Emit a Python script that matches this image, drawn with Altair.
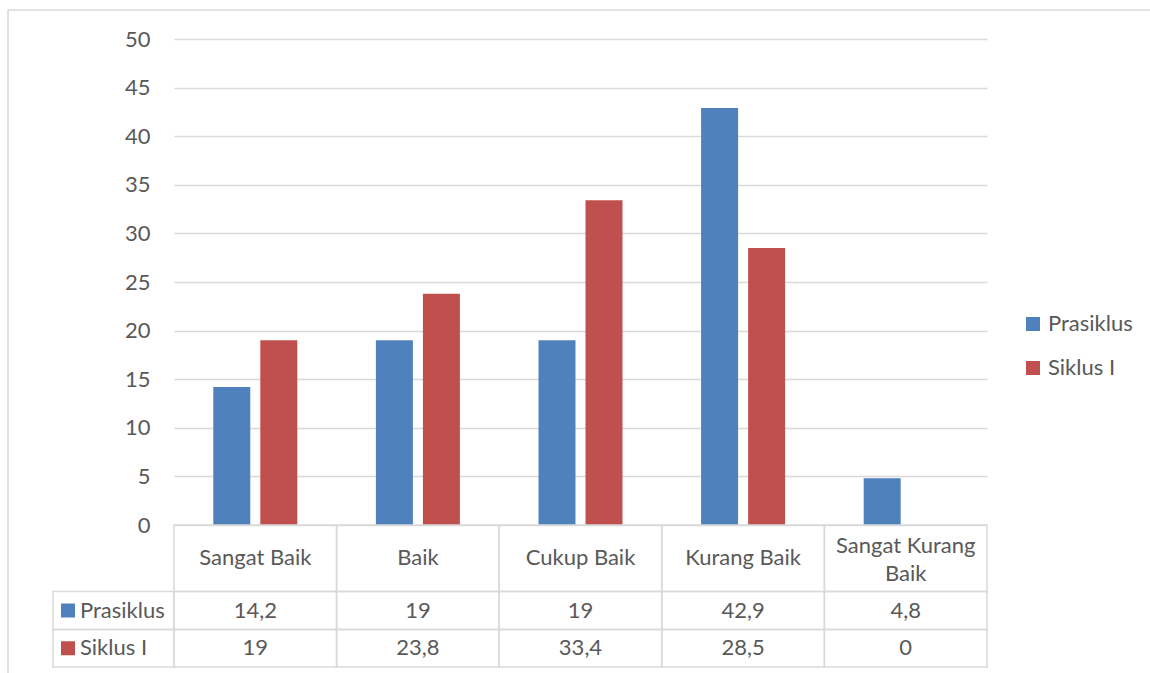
import altair as alt
import pandas as pd

categories = ["Sangat Baik", "Baik", "Cukup Baik", "Kurang Baik", "Sangat Kurang Baik"]
header_lines = [["Sangat Baik"], ["Baik"], ["Cukup Baik"], ["Kurang Baik"], ["Sangat Kurang", "Baik"]]
series_names = ["Prasiklus", "Siklus I"]
prasiklus = [14.2, 19, 19, 42.9, 4.8]
siklus1 = [19, 23.8, 33.4, 28.5, 0]
colors = ["#4F81BD", "#C0504D"]
y_ticks = [0, 5, 10, 15, 20, 25, 30, 35, 40, 45, 50]

FONT = "Lato"
FS = 22
TXT = "#595959"
GRID = "#d9d9d9"
LH = 28

W, H = 813, 486
row_tops = [552.5, 590.5]
row_bottom = 628.0

rows = []
for s, vals in zip(series_names, [prasiklus, siklus1]):
    for c, v in zip(categories, vals):
        rows.append({"category": c, "series": s, "value": v,
                     "label": f"{v:g}".replace(".", ",")})
df = pd.DataFrame(rows)
df_head = pd.DataFrame({"category": categories, "lines": header_lines,
                        "n": [len(l) for l in header_lines]})
df_ser = pd.DataFrame({"series": series_names})

x_enc = alt.X("category:N", sort=categories, axis=None,
              scale=alt.Scale(domain=categories, paddingInner=0, paddingOuter=0))
color_enc = alt.Color("series:N", sort=series_names,
                      scale=alt.Scale(domain=series_names, range=colors),
                      legend=alt.Legend(title=None, orient="none", legendX=848, legendY=274,
                                        symbolType="square", symbolSize=196,
                                        symbolStrokeWidth=0, labelFontSize=FS,
                                        labelFont=FONT, labelColor=TXT,
                                        rowPadding=22, labelOffset=4))

# outer chart border (decoration)
border = alt.Chart(df_ser.head(1)).mark_rect(fillOpacity=0, stroke=GRID, strokeWidth=1.5).encode(
    x=alt.value(-166), x2=alt.value(1000), y=alt.value(-29), y2=alt.value(700))

bars = alt.Chart(df).mark_bar().encode(
    x=x_enc,
    xOffset=alt.XOffset("series:N", sort=series_names,
                        scale=alt.Scale(domain=series_names, paddingInner=0.213, paddingOuter=0.836)),
    y=alt.Y("value:Q", scale=alt.Scale(domain=[0, 50], nice=False),
            axis=alt.Axis(values=y_ticks, title=None, domain=False, ticks=False,
                          grid=True, gridColor=GRID, gridWidth=1.5, labelPadding=24,
                          labelFont=FONT, labelFontSize=FS, labelColor=TXT)),
    color=color_enc,
)

cell_style = dict(fillOpacity=0, stroke=GRID, strokeWidth=1.5)

head_cells = alt.Chart(df_head).mark_rect(**cell_style).encode(
    x=x_enc, y=alt.value(H), y2=alt.value(row_tops[0]))
head_mid = (H + row_tops[0]) / 2
head_text1 = alt.Chart(df_head).transform_filter("datum.n == 1").mark_text(
    font=FONT, fontSize=FS, color=TXT, baseline="middle", lineHeight=LH).encode(
    x=x_enc, y=alt.value(head_mid), text="lines")
head_text2 = alt.Chart(df_head).transform_filter("datum.n == 2").mark_text(
    font=FONT, fontSize=FS, color=TXT, baseline="middle", lineHeight=LH, dy=-LH / 2 + 2).encode(
    x=x_enc, y=alt.value(head_mid), text="lines")

layers = [border, bars, head_cells, head_text1, head_text2]
for i, s in enumerate(series_names):
    top = row_tops[i]
    bot = row_tops[i + 1] if i + 1 < len(row_tops) else row_bottom
    mid = (top + bot) / 2
    sub = df[df.series == s]
    layers.append(alt.Chart(sub).mark_rect(**cell_style).encode(
        x=x_enc, y=alt.value(top), y2=alt.value(bot)))
    layers.append(alt.Chart(sub).mark_text(font=FONT, fontSize=FS, color=TXT,
                                           baseline="middle").encode(
        x=x_enc, y=alt.value(mid), text="label:N"))
    sd = df_ser[df_ser.series == s]
    layers.append(alt.Chart(sd).mark_rect(**cell_style).encode(
        x=alt.value(-121), x2=alt.value(0), y=alt.value(top), y2=alt.value(bot)))
    layers.append(alt.Chart(sd).mark_square(size=196, opacity=1, strokeWidth=0).encode(
        x=alt.value(-106), y=alt.value(mid), color=color_enc))
    layers.append(alt.Chart(sd).mark_text(font=FONT, fontSize=FS, color=TXT, align="left",
                                          baseline="middle").encode(
        x=alt.value(-94), y=alt.value(mid), text="series:N"))

chart = alt.layer(*layers).properties(
    width=W, height=H,
    autosize=alt.AutoSizeParams(type="none"),
    padding={"left": 174, "top": 39, "right": 163, "bottom": 148},
    background="white",
).configure_view(stroke=None)

chart.save("out.html", embed_options={"renderer": "svg", "actions": False})
